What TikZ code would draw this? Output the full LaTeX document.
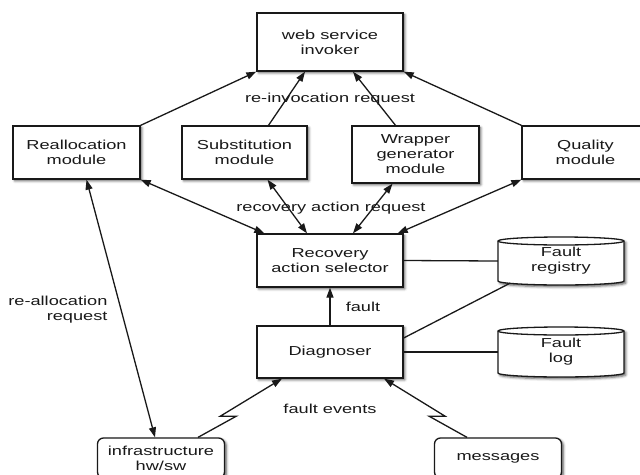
\documentclass[tikz,border=0pt]{standalone}
\usepackage{fontspec}
\setmainfont{Liberation Sans}[FakeStretch=1.4]
\usepackage{tikz}
\usetikzlibrary{arrows.meta,calc,shadows.blur}

\begin{document}
\begin{tikzpicture}[x=1pt, y=-1pt,
  every node/.style={font=\fontsize{13}{15}\selectfont, text=black!90},
  softshadow/.style={blur shadow={shadow xshift=1.8pt, shadow yshift=-1.8pt,
                                  shadow blur radius=2.5pt, shadow opacity=65}},
  box/.style={draw=black!90, line width=1.3pt, fill=white, align=center, inner sep=1pt,
              minimum width=127pt, minimum height=53pt, softshadow},
  src/.style={box, rounded corners=6pt, minimum height=40pt},
  store/.style={align=center, inner sep=1pt, minimum width=126pt, minimum height=48pt},
  drum/.style={draw=black!90, line width=1.3pt, fill=white, softshadow},
  arr/.style={-{Triangle[length=10pt,width=7pt]}, line width=1.3pt, draw=black!90},
  biarr/.style={{Triangle[length=10pt,width=7pt]}-{Triangle[length=10pt,width=7pt]},
                line width=1.3pt, draw=black!90},
  link/.style={line width=1.3pt, draw=black!90},
  bolt/.style={to path={-- ($(\tikztostart)!.36!(\tikztotarget)+(#1,0)$)
                        -- ($(\tikztostart)!.36!(\tikztotarget)-(#1,0)$)
                        -- (\tikztotarget)}},
]
  \useasboundingbox (0,0) rectangle (640,474);

  % Invoker and the four recovery modules
  \node[box, minimum width=146pt, minimum height=58pt] (invoker) at (330,42) {web service\\invoker};
  \node[box] (realloc) at (76.5,152.5) {Reallocation\\module};
  \node[box, minimum width=125pt] (subst) at (244.5,152.5) {Substitution\\module};
  \node[box, minimum height=57pt] (wrapper) at (415.5,154.5) {Wrapper\\generator\\module};
  \node[box] (quality) at (585.5,152.5) {Quality\\module};

  % Selector and diagnoser
  \node[box, minimum width=146pt] (selector) at (330,260.5) {Recovery\\action selector};
  \node[box, minimum width=146pt, minimum height=52pt] (diagnoser) at (330,352) {Diagnoser};

  % Drums for the two fault stores (centre y / height)
  \foreach \cy/\h in {261/48, 352/50} {
    \draw[drum] (498,\cy-\h/2+4) -- (498,\cy+\h/2-4)
      arc[start angle=180, end angle=360, x radius=63pt, y radius=4pt]
      -- (624,\cy-\h/2+4)
      arc[start angle=0, end angle=180, x radius=63pt, y radius=4pt] -- cycle;
    \draw[link] (498,\cy-\h/2+4)
      arc[start angle=180, end angle=360, x radius=63pt, y radius=4pt];
  }
  \node[store] (registry) at (561,261) {Fault\\registry};
  \node[store, minimum height=50pt] (faultlog) at (561,352) {Fault\\log};

  % Event sources
  \node[src] (infra) at (161,458) {infrastructure\\hw/sw};
  \node[src] (messages) at (498,458) {messages};

  % Edge labels
  \node (reinvoke) at (330,99) {re-invocation request};
  \node (recreq) at (331,208) {recovery action request};
  \node (faultlbl) at (363,307) {fault};
  \node[align=right, anchor=east] (reallocreq) at (111,309.5) {re-allocation\\request};
  \node (events) at (330,409) {fault events};

  % Re-invocation
  \draw[arr] (realloc.north east) -- (invoker.south west);
  \draw[arr] ([xshift=24pt]subst.north) -- ([xshift=-25pt]invoker.south);
  \draw[arr] ([xshift=-20pt]wrapper.north) -- ([xshift=23pt]invoker.south);
  \draw[arr] (quality.north west) -- (invoker.south east);

  % Recovery action requests
  \draw[biarr] (realloc.south east) -- ([xshift=8pt]selector.north west);
  \draw[biarr] ([xshift=23pt]subst.south) -- ([xshift=-23pt]selector.north);
  \draw[biarr] ([xshift=-23pt]wrapper.south) -- ([xshift=23pt]selector.north);
  \draw[biarr] (quality.south west) -- ([xshift=-6pt]selector.north east);

  \draw[arr] (diagnoser) -- (selector);
  \draw[link] (selector.east) -- (registry.west);
  \draw[link] ([yshift=14pt]diagnoser.east) -- ([xshift=-51pt,yshift=2pt]registry.south);
  \draw[link] (diagnoser.east) -- (faultlog.west);

  \draw[biarr] ([xshift=10pt]realloc.south) -- ([xshift=-6pt]infra.north);

  % Fault events
  \draw[arr] ([xshift=37pt]infra.north) to[bolt=8] ([xshift=-48pt]diagnoser.south);
  \draw[arr] ([xshift=-31pt]messages.north) to[bolt=-8] ([xshift=54pt]diagnoser.south);
\end{tikzpicture}
\end{document}
